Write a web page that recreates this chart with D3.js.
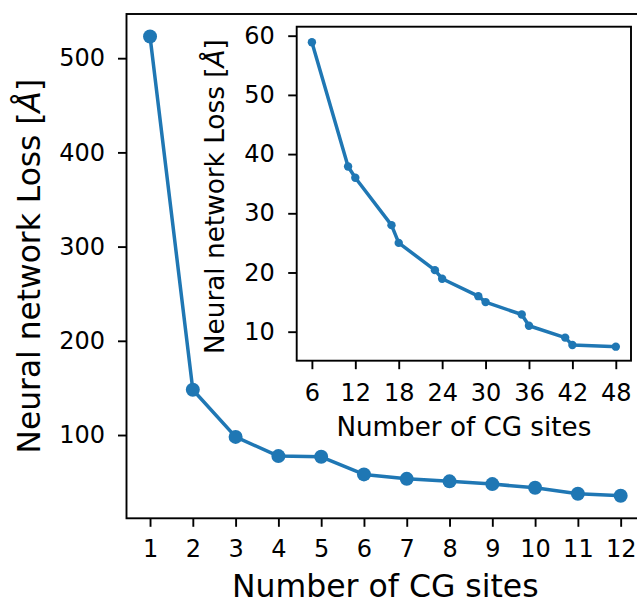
<!DOCTYPE html>
<html>
<head>
<meta charset="utf-8">
<script src="https://cdn.jsdelivr.net/npm/d3@7"></script>
<style>
  html, body { margin: 0; padding: 0; background: #fff; }
  svg { display: block; font-family: "DejaVu Sans", sans-serif; }
</style>
</head>
<body>
<svg id="chart" width="637" height="599"></svg>
<script>
// ---- data ----
const mainSites = [1, 2, 3, 4, 5, 6, 7, 8, 9, 10, 11, 12];
const mainLoss  = [523, 148, 98, 77.6, 76.9, 58.2, 53.5, 50.8, 47.9, 44, 37.6, 35.5];
const mainXTicks = [1, 2, 3, 4, 5, 6, 7, 8, 9, 10, 11, 12];
const mainYTicks = [100, 200, 300, 400, 500];

const insetSites = [6, 11, 12, 17, 18, 23, 24, 29, 30, 35, 36, 41, 42, 48];
const insetLoss  = [58.9, 37.9, 36.0, 28.0, 25.0, 20.4, 18.95, 16.0, 15.0, 12.9, 11.0, 9.0, 7.75, 7.47];
const insetXTicks = [6, 12, 18, 24, 30, 36, 42, 48];
const insetYTicks = [10, 20, 30, 40, 50, 60];

const xLabel = "Number of CG sites";
const yLabelText = "Neural network Loss [";
const yLabelUnit = "Å";
const yLabelEnd = "]";

const color = "#1f77b4";

const svg = d3.select("#chart");

function styleAxis(g) {
  g.selectAll(".domain").remove();
  g.selectAll(".tick line").attr("stroke", "#000").attr("stroke-width", 1.9);
  g.selectAll(".tick text").attr("fill", "#000").attr("font-size", "24px")
    .attr("font-family", "DejaVu Sans, sans-serif");
}

function yLabel(parent, x, y, size) {
  const t = parent.append("text")
    .attr("transform", `translate(${x},${y}) rotate(-90)`)
    .attr("text-anchor", "middle")
    .attr("font-size", size + "px")
    .attr("fill", "#000");
  t.append("tspan").text(yLabelText);
  t.append("tspan").attr("font-style", "italic").text(yLabelUnit);
  t.append("tspan").text(yLabelEnd);
}

// ---- main axes ----
const M = { left: 126.5, top: 14, right: 644.2, bottom: 518.3 };
const x = d3.scaleLinear().domain([0.45, 12.55]).range([M.left, M.right]);
const y = d3.scaleLinear().domain([11.6, 546.9]).range([M.bottom, M.top]);

const gx = svg.append("g").attr("transform", `translate(0,${M.bottom})`)
  .call(d3.axisBottom(x).tickValues(mainXTicks).tickFormat(d3.format("d")).tickSize(8.5).tickPadding(13));
styleAxis(gx);
const gy = svg.append("g").attr("transform", `translate(${M.left},0)`)
  .call(d3.axisLeft(y).tickValues(mainYTicks).tickFormat(d3.format("d")).tickSize(8.5).tickPadding(13));
styleAxis(gy);

svg.append("rect").attr("x", M.left).attr("y", M.top)
  .attr("width", M.right - M.left).attr("height", M.bottom - M.top)
  .attr("fill", "none").attr("stroke", "#000").attr("stroke-width", 1.9);

const mainData = mainSites.map((s, i) => [s, mainLoss[i]]);
svg.append("path").datum(mainData)
  .attr("d", d3.line().x(d => x(d[0])).y(d => y(d[1])))
  .attr("fill", "none").attr("stroke", color).attr("stroke-width", 3.5)
  .attr("stroke-linejoin", "round").attr("stroke-linecap", "square");
svg.append("g").selectAll("circle").data(mainData).join("circle")
  .attr("cx", d => x(d[0])).attr("cy", d => y(d[1])).attr("r", 7).attr("fill", color);

svg.append("text").attr("x", (M.left + M.right) / 2).attr("y", 597)
  .attr("text-anchor", "middle").attr("font-size", "31.5px").attr("fill", "#000").text(xLabel);
yLabel(svg, 40, (M.top + M.bottom) / 2, 31.3);

// ---- inset axes ----
const I = { left: 296.7, top: 26.7, right: 631, bottom: 360.7 };
const xi = d3.scaleLinear().domain([3.9, 50.1]).range([I.left, I.right]);
const yi = d3.scaleLinear().domain([5.1, 61.52]).range([I.bottom, I.top]);

svg.append("rect").attr("x", I.left).attr("y", I.top)
  .attr("width", I.right - I.left).attr("height", I.bottom - I.top)
  .attr("fill", "#fff");

const gxi = svg.append("g").attr("transform", `translate(0,${I.bottom})`)
  .call(d3.axisBottom(xi).tickValues(insetXTicks).tickFormat(d3.format("d")).tickSize(8.5).tickPadding(14.5));
styleAxis(gxi);
const gyi = svg.append("g").attr("transform", `translate(${I.left},0)`)
  .call(d3.axisLeft(yi).tickValues(insetYTicks).tickFormat(d3.format("d")).tickSize(8.5).tickPadding(13.5));
styleAxis(gyi);

const insetData = insetSites.map((s, i) => [s, insetLoss[i]]);
svg.append("path").datum(insetData)
  .attr("d", d3.line().x(d => xi(d[0])).y(d => yi(d[1])))
  .attr("fill", "none").attr("stroke", color).attr("stroke-width", 3.5)
  .attr("stroke-linejoin", "round").attr("stroke-linecap", "square");
svg.append("g").selectAll("circle").data(insetData).join("circle")
  .attr("cx", d => xi(d[0])).attr("cy", d => yi(d[1])).attr("r", 4.2).attr("fill", color);

svg.append("rect").attr("x", I.left).attr("y", I.top)
  .attr("width", I.right - I.left).attr("height", I.bottom - I.top)
  .attr("fill", "none").attr("stroke", "#000").attr("stroke-width", 1.9);

svg.append("text").attr("x", (I.left + I.right) / 2).attr("y", 435.7)
  .attr("text-anchor", "middle").attr("font-size", "26.2px").attr("fill", "#000").text(xLabel);
yLabel(svg, 224.3, (I.top + I.bottom) / 2 + 3, 26.3);
</script>
</body>
</html>
